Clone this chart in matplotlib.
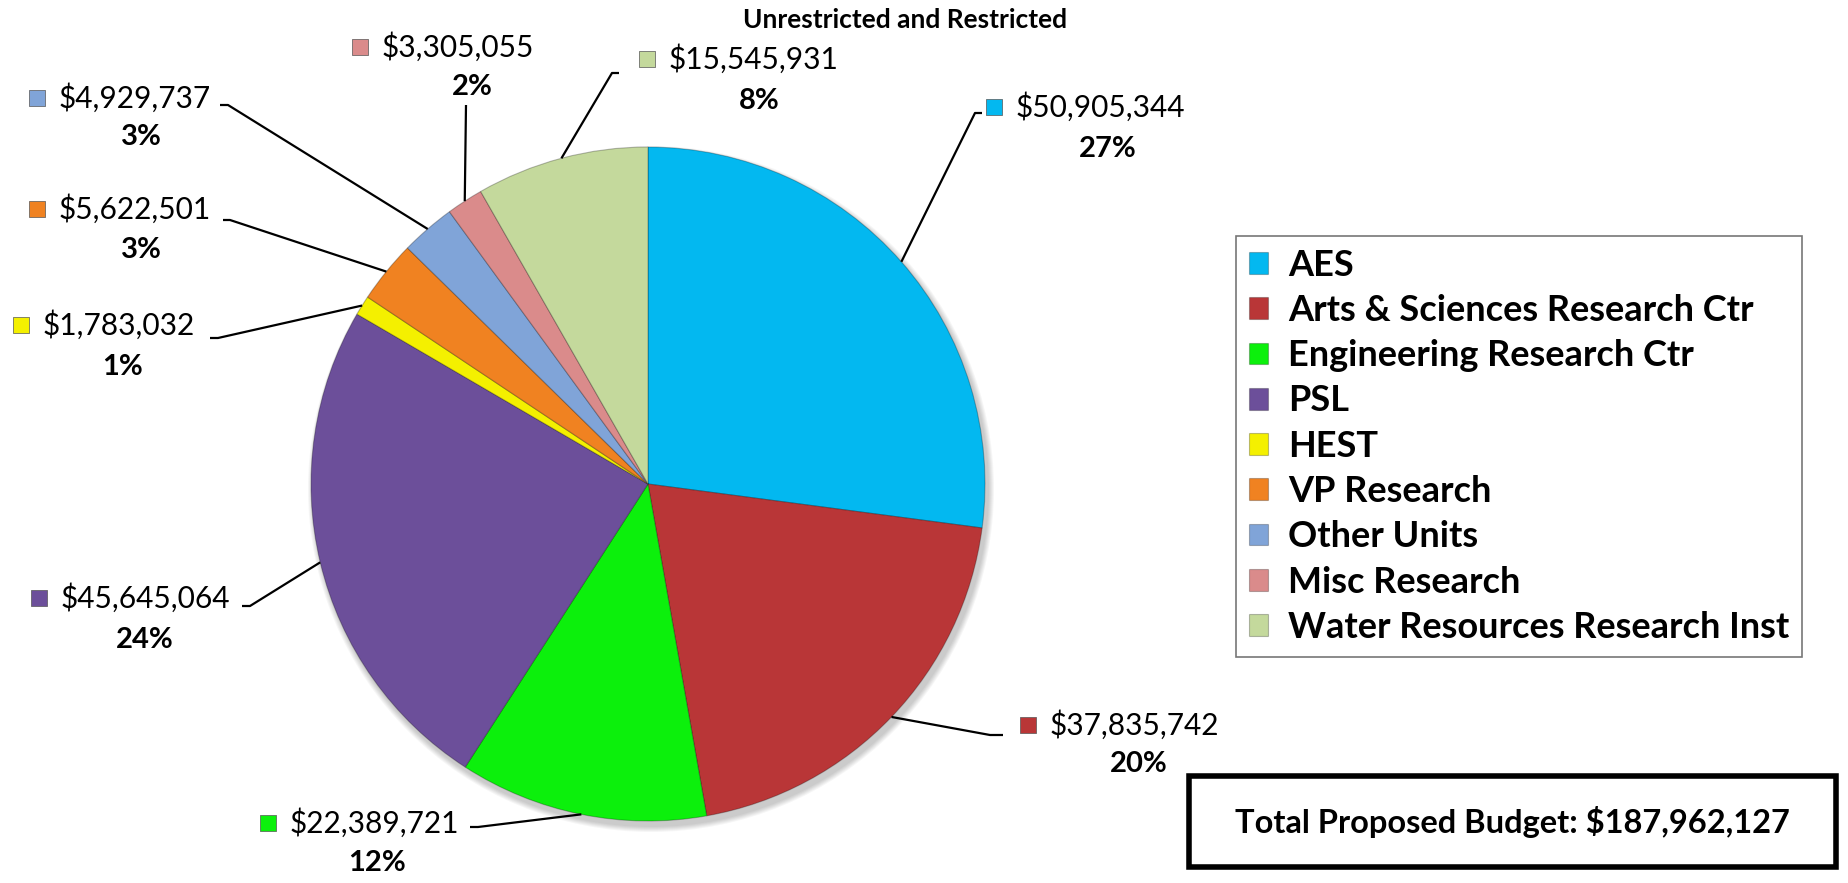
import matplotlib
matplotlib.use('Agg')
import matplotlib.pyplot as plt
from matplotlib import font_manager
from matplotlib.patches import Rectangle, Circle
import numpy as np

plt.rcParams['font.family'] = ['Lato', 'DejaVu Sans']

# condensed face for the title if there is one
installed = {f.name for f in font_manager.fontManager.ttflist}
title_font = 'Liberation Sans Narrow' if 'Liberation Sans Narrow' in installed else 'Lato'

# data
units = ['AES', 'Arts & Sciences Research Ctr', 'Engineering Research Ctr', 'PSL', 'HEST',
         'VP Research', 'Other Units', 'Misc Research', 'Water Resources Research Inst']
budget = [50905344, 37835742, 22389721, 45645064, 1783032, 5622501, 4929737, 3305055, 15545931]
colors = ['#03b8f0', '#b93637', '#0cf00c', '#6c4f9a', '#f4f000', '#f08221', '#80a4d8', '#da8b8b', '#c4d99c']
title = 'Unrestricted and Restricted'
total_text = 'Total Proposed Budget: $187,962,127'

# layout in pixels (y measured from the top)
W, H = 1849, 883
center = (648, 484)
radius = 337
# marker position of each data label
marker_xy = [(994, 107), (1028, 725), (268, 823), (39, 598), (21, 325),
             (37, 209), (37, 98), (360, 47), (647, 59)]
# centre of the percentage line under each value
pct_xy = [(1108, 149), (1139, 764), (377, 863), (145, 640), (123, 367),
          (141, 250), (141, 137), (472, 87), (759, 101)]
# leader line: knee point near the label, then end point next to the label
leader_knee = [(975, 113), (990, 735), (478, 827), (250, 606), (218, 338),
               (230, 220), (228, 105), (466, 105), (612, 73)]
leader_end = [(982, 113), (1003, 735), (470, 827), (242, 606), (210, 338),
              (223, 220), (220, 105), (466, 105), (619, 73)]

fig = plt.figure(figsize=(W / 100, H / 100), dpi=100)
ax = fig.add_axes([0, 0, 1, 1])

# soft shadow under the pie
for k in range(6):
    ax.add_patch(Circle((center[0] + 3, center[1] + 5), radius + 6 - k,
                        color='black', alpha=0.035, lw=0, zorder=0))

wedges, _ = ax.pie(budget, colors=colors, startangle=-90, counterclock=True,
                   center=center, radius=radius,
                   wedgeprops=dict(edgecolor=(0, 0, 0, 0.25), linewidth=0.8, zorder=1))
ax.set_xlim(0, W)
ax.set_ylim(H, 0)
ax.set_aspect('equal')
ax.axis('off')

total = sum(budget)
for i, w in enumerate(wedges):
    mid = np.deg2rad((w.theta1 + w.theta2) / 2)
    ex = center[0] + radius * np.cos(mid)
    ey = center[1] + radius * np.sin(mid)
    kx, ky = leader_knee[i]
    lx, ly = leader_end[i]
    ax.plot([ex, kx, lx], [ey, ky, ly], color='black', lw=1.6, solid_capstyle='butt')

    mx, my = marker_xy[i]
    ax.scatter(mx, my, marker='s', s=120, color=colors[i], edgecolor='#555555', linewidth=0.5, zorder=5)
    ax.text(mx + 22, my, '${:,}'.format(budget[i]), fontsize=21.5, va='center', ha='left')
    px, py = pct_xy[i]
    ax.text(px, py, '{:.0f}%'.format(100 * budget[i] / total), fontsize=21,
            fontweight='bold', va='center', ha='center')

ax.text(905, 20, title, fontsize=19, fontweight='bold', ha='center', va='center',
        family=[title_font, 'DejaVu Sans'])

leg = ax.legend(wedges, units, loc='upper left',
                bbox_to_anchor=(1236 / W, 1 - 236 / H), bbox_transform=fig.transFigure,
                frameon=True, fancybox=False, edgecolor='#555555',
                prop={'size': 26, 'weight': 'bold'}, handlelength=0.55, handleheight=0.55,
                handletextpad=0.55, labelspacing=0.34, borderpad=0.35, borderaxespad=0)
leg.get_frame().set_linewidth(1.2)

ax.add_patch(Rectangle((1189, 776), 647, 91, fill=False, edgecolor='black', linewidth=4))
ax.text(1512, 822, total_text, fontsize=23.5, fontweight='bold', ha='center', va='center')

fig.savefig('out.png', dpi=100)
